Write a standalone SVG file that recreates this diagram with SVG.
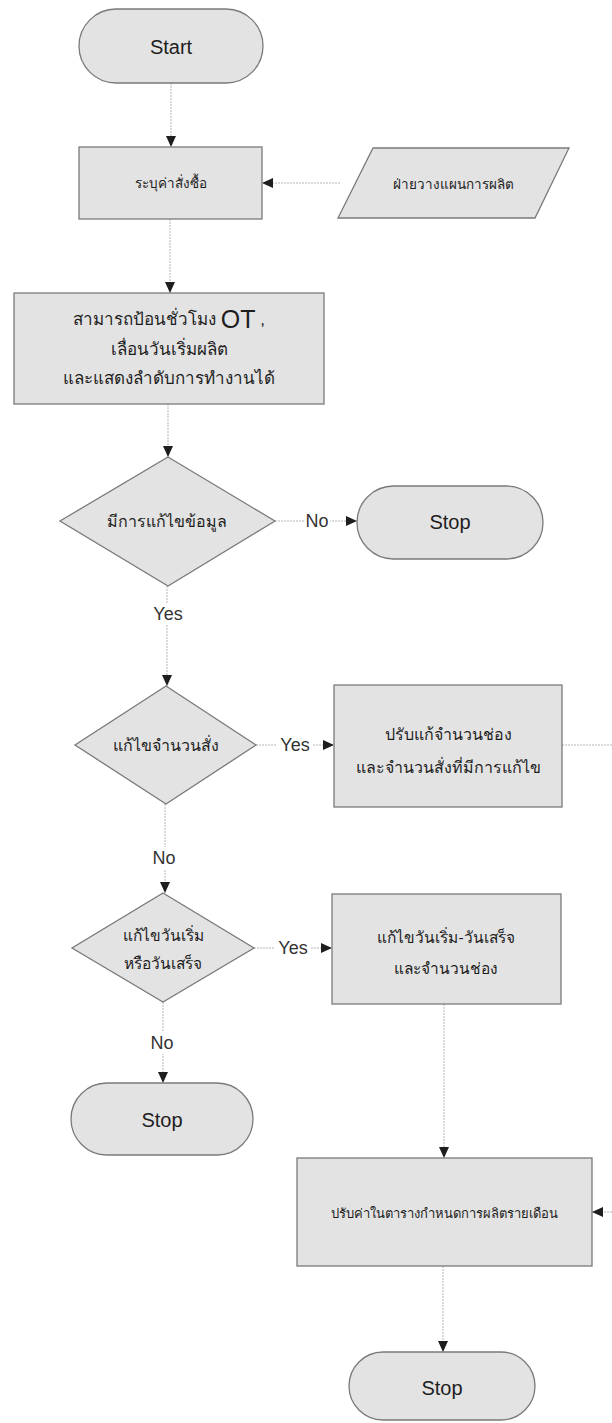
<svg xmlns="http://www.w3.org/2000/svg" width="612" height="1423" viewBox="0 0 612 1423">
<style>
.n{fill:#e3e3e3;stroke:#7a7a7a;stroke-width:1.3}
.c{fill:none;stroke:#b5b5b5;stroke-width:1;stroke-dasharray:2 1}
.t{font-family:"Liberation Sans","DejaVu Sans",sans-serif;fill:#1e1e1e;text-anchor:middle;dominant-baseline:central}
.lb{font-family:"Liberation Sans","DejaVu Sans",sans-serif;fill:#333;font-size:18px;text-anchor:middle;dominant-baseline:central}
.bg{fill:#fff}
</style>
<defs>
<marker id="ah" markerUnits="userSpaceOnUse" markerWidth="12" markerHeight="10" refX="11" refY="5" orient="auto">
<path d="M0,0 L11,5 L0,10 Z" fill="#1e1e1e"/>
</marker>
</defs>
<rect width="612" height="1423" fill="#fff"/>
<g id="connectors">
<path class="c" d="M171,83 V147" marker-end="url(#ah)"/>
<path class="c" d="M340,183 H262" marker-end="url(#ah)"/>
<path class="c" d="M170,219 V293" marker-end="url(#ah)"/>
<path class="c" d="M168,404 V457" marker-end="url(#ah)"/>
<path class="c" d="M275,521 H357" marker-end="url(#ah)"/>
<path class="c" d="M167,586 V686" marker-end="url(#ah)"/>
<path class="c" d="M256,745 H334" marker-end="url(#ah)"/>
<path class="c" d="M562,745 H640 V1212 H592" marker-end="url(#ah)"/>
<path class="c" d="M165,804 V893" marker-end="url(#ah)"/>
<path class="c" d="M254,948 H332" marker-end="url(#ah)"/>
<path class="c" d="M163,1002 V1083" marker-end="url(#ah)"/>
<path class="c" d="M444,1004 V1158" marker-end="url(#ah)"/>
<path class="c" d="M443,1266 V1352" marker-end="url(#ah)"/>
<rect class="bg" x="304" y="510" width="26" height="22"/>
<text class="lb" x="317" y="521">No</text>
<rect class="bg" x="150" y="603" width="36" height="22"/>
<text class="lb" x="168" y="614">Yes</text>
<rect class="bg" x="277" y="734" width="36" height="22"/>
<text class="lb" x="295" y="745">Yes</text>
<rect class="bg" x="151" y="847" width="26" height="22"/>
<text class="lb" x="164" y="858">No</text>
<rect class="bg" x="275" y="937" width="36" height="22"/>
<text class="lb" x="293" y="948">Yes</text>
<rect class="bg" x="149" y="1032" width="26" height="22"/>
<text class="lb" x="162" y="1043">No</text>
</g>
<g id="start">
<rect class="n" x="79" y="9" width="184" height="74" rx="37"/>
<text class="t" x="171" y="47" font-size="20">Start</text>
</g>
<g id="specify-order">
<rect class="n" x="79" y="147" width="183" height="72"/>
<text class="t" x="171" y="183" font-size="13.5">ระบุค่าสั่งซื้อ</text>
</g>
<g id="planning-input">
<polygon class="n" points="373,148 569,148 535,218 338,218"/>
<text class="t" x="453" y="184" font-size="13.5">ฝ่ายวางแผนการผลิต</text>
</g>
<g id="enter-ot">
<rect class="n" x="14" y="293" width="310" height="111"/>
<text class="t" x="169" y="319" font-size="17">สามารถป้อนชั่วโมง <tspan font-size="25">OT</tspan> ,</text>
<text class="t" x="169" y="349" font-size="17">เลื่อนวันเริ่มผลิต</text>
<text class="t" x="169" y="378" font-size="17">และแสดงลำดับการทำงานได้</text>
</g>
<g id="edit-data">
<polygon class="n" points="168,457 275,521 168,586 60,521"/>
<text class="t" x="167" y="521" font-size="16">มีการแก้ไขข้อมูล</text>
</g>
<g id="stop1">
<rect class="n" x="357" y="486" width="186" height="73" rx="36.5"/>
<text class="t" x="450" y="522" font-size="20">Stop</text>
</g>
<g id="edit-qty">
<polygon class="n" points="166,686 256,745 166,804 75,745"/>
<text class="t" x="166" y="745" font-size="16">แก้ไขจำนวนสั่ง</text>
</g>
<g id="adjust-qty">
<rect class="n" x="334" y="685" width="228" height="122"/>
<text class="t" x="448" y="734" font-size="16">ปรับแก้จำนวนช่อง</text>
<text class="t" x="448" y="767" font-size="16">และจำนวนสั่งที่มีการแก้ไข</text>
</g>
<g id="edit-dates">
<polygon class="n" points="163,893 254,948 163,1002 72,948"/>
<text class="t" x="163" y="935" font-size="15.5">แก้ไขวันเริ่ม</text>
<text class="t" x="163" y="963" font-size="15.5">หรือวันเสร็จ</text>
</g>
<g id="adjust-dates">
<rect class="n" x="332" y="894" width="229" height="110"/>
<text class="t" x="446" y="937" font-size="15.5">แก้ไขวันเริ่ม-วันเสร็จ</text>
<text class="t" x="446" y="968" font-size="15.5">และจำนวนช่อง</text>
</g>
<g id="stop2">
<rect class="n" x="71" y="1083" width="182" height="72" rx="36"/>
<text class="t" x="162" y="1120" font-size="20">Stop</text>
</g>
<g id="adjust-schedule">
<rect class="n" x="297" y="1158" width="295" height="108"/>
<text class="t" x="444" y="1213" font-size="13">ปรับค่าในตารางกำหนดการผลิตรายเดือน</text>
</g>
<g id="stop3">
<rect class="n" x="349" y="1352" width="186" height="68" rx="34"/>
<text class="t" x="442" y="1388" font-size="20">Stop</text>
</g>
</svg>
